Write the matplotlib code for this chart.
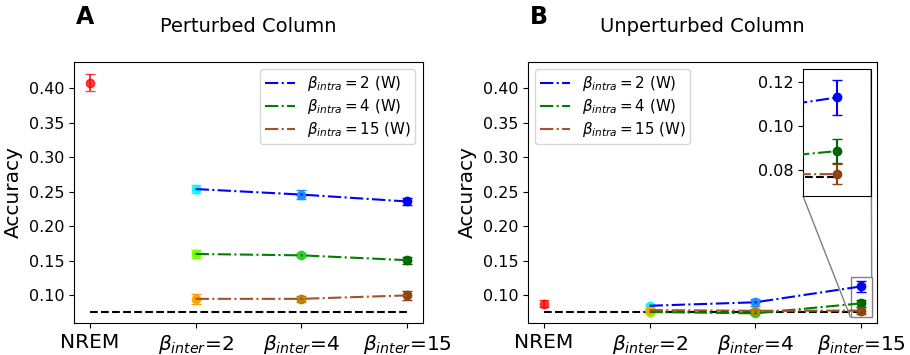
import matplotlib
matplotlib.use("Agg")
import matplotlib.pyplot as plt
import matplotlib.transforms as mtransforms
import numpy as np
from mpl_toolkits.axes_grid1.inset_locator import mark_inset

xtick_labels = ['NREM', r'$\beta_{inter}$=2', r'$\beta_{inter}$=4', r'$\beta_{inter}$=15']
series_labels = [r'$\beta_{intra}=2$ (W)', r'$\beta_{intra}=4$ (W)', r'$\beta_{intra}=15$ (W)']
line_colors = ['blue', 'green', 'sienna']
marker_colors = [['cyan', 'dodgerblue', 'blue'],
                 ['lawngreen', 'limegreen', 'darkgreen'],
                 ['orange', 'darkgoldenrod', 'saddlebrown']]
chance = 0.0765

# Panel A: perturbed column
nrem_A, nrem_A_err = 0.408, 0.012
vals_A = [[0.254, 0.246, 0.236],
          [0.160, 0.158, 0.151],
          [0.095, 0.095, 0.100]]
errs_A = [[0.006, 0.006, 0.005],
          [0.006, 0.003, 0.005],
          [0.007, 0.004, 0.006]]

# Panel B: unperturbed column
nrem_B, nrem_B_err = 0.088, 0.005
vals_B = [[0.085, 0.090, 0.113],
          [0.076, 0.074, 0.0885],
          [0.0787, 0.0777, 0.078]]
errs_B = [[0.003, 0.005, 0.008],
          [0.002, 0.002, 0.0055],
          [0.002, 0.002, 0.0045]]

fig = plt.figure(figsize=(9.1, 3.55), dpi=100)
axA = fig.add_axes([0.0813, 0.0901, 0.3835, 0.7353])
axB = fig.add_axes([0.5802, 0.0901, 0.3835, 0.7353])


def draw(ax, nrem, nrem_err, vals, errs):
    ax.errorbar([0], [nrem], yerr=[nrem_err], fmt='o', color='red', alpha=0.75,
                ms=6, capsize=3.5)
    xs = np.array([1, 2, 3])
    handles = []
    for i in range(3):
        h, = ax.plot(xs, vals[i], linestyle='-.', color=line_colors[i], lw=1.5,
                     label=series_labels[i], zorder=3)
        handles.append(h)
        for j in range(3):
            ax.errorbar([xs[j]], [vals[i][j]], yerr=[errs[i][j]], fmt='o',
                        color=marker_colors[i][j], ms=6, capsize=3.5, zorder=2)
    ax.plot([0, 3], [chance, chance], 'k--', lw=1.5, zorder=1)
    return handles


for ax, nrem, ne, vals, errs, title, letter, loc in [
        (axA, nrem_A, nrem_A_err, vals_A, errs_A, 'Perturbed Column', 'A', 'upper right'),
        (axB, nrem_B, nrem_B_err, vals_B, errs_B, 'Unperturbed Column', 'B', 'upper left')]:
    handles = draw(ax, nrem, ne, vals, errs)
    ax.set_xlim(-0.15, 3.15)
    ax.set_ylim(0.06, 0.438)
    ax.set_yticks([0.10, 0.15, 0.20, 0.25, 0.30, 0.35, 0.40])
    ax.set_yticklabels(['0.10', '0.15', '0.20', '0.25', '0.30', '0.35', '0.40'])
    ax.tick_params(axis='y', labelsize=11.5)
    ax.set_xticks([0, 1, 2, 3])
    ax.set_xticklabels(xtick_labels, fontsize=14.5)
    ax.set_ylabel('Accuracy', fontsize=14.5)
    ax.set_title(title, fontsize=14, pad=21.5)
    ax.legend(handles=handles, loc=loc, fontsize=10.8, labelspacing=0.28,
              borderpad=0.3)
    tr = mtransforms.blended_transform_factory(ax.transAxes, fig.transFigure)
    ax.text(0.005, 1 - 24/355, letter, transform=tr, fontsize=17, fontweight='bold',
            va='baseline', ha='left')

# Inset in panel B
axins = fig.add_axes([803/910, 1-196/355, 68/910, 127/355])
axins.errorbar([0], [nrem_B], yerr=[nrem_B_err], fmt='o', color='red', alpha=0.75,
               ms=6, capsize=3.5)
xs = np.array([1, 2, 3])
for i in range(3):
    axins.plot(xs, vals_B[i], linestyle='-.', color=line_colors[i], lw=1.5, zorder=3)
    for j in range(3):
        axins.errorbar([xs[j]], [vals_B[i][j]], yerr=[errs_B[i][j]], fmt='o',
                       color=marker_colors[i][j], ms=6, capsize=3.5, zorder=2)
axins.plot([0, 3], [chance, chance], 'k--', lw=1.5, zorder=1)
axins.set_xlim(2.9, 3.1)
axins.set_ylim(0.068, 0.126)
axins.set_xticks([])
axins.set_yticks([0.08, 0.10, 0.12])
axins.set_yticklabels(['0.08', '0.10', '0.12'])
axins.tick_params(axis='y', labelsize=11.5)
mark_inset(axB, axins, loc1=1, loc2=3, fc='none', ec='0.5')

fig.savefig('out.png', dpi=100)
